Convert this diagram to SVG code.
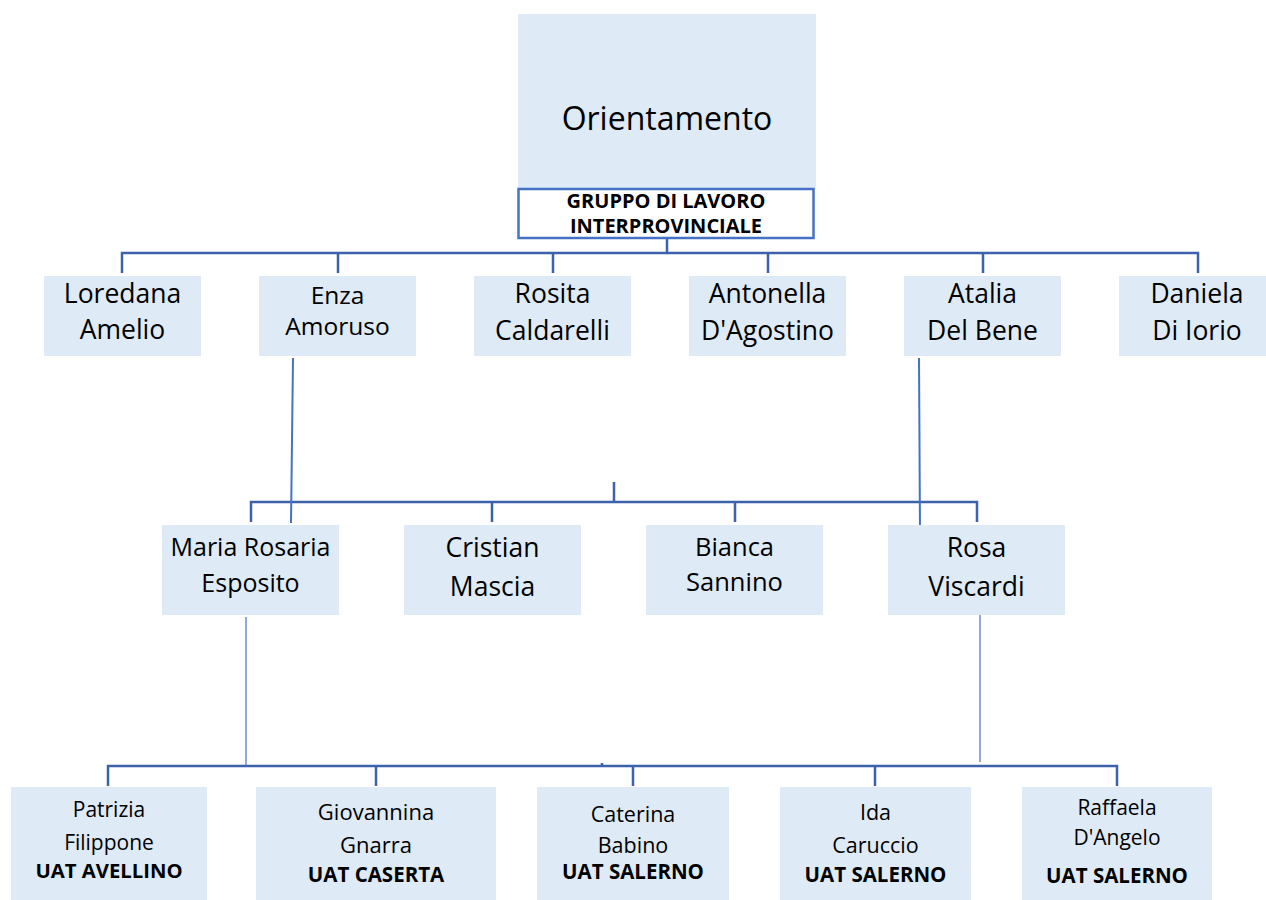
<svg xmlns="http://www.w3.org/2000/svg" width="1266" height="900" viewBox="0 0 1266 900">
<style>
.box{fill:#DEEAF6;}
.t{font-family:"Open Sans","Noto Sans",sans-serif;fill:#000;text-anchor:middle;}
.b{font-family:"Open Sans","Noto Sans",sans-serif;font-weight:bold;fill:#000;text-anchor:middle;}
.bus{stroke:#3C62AC;stroke-width:2.5;fill:none;}
.cross{stroke:#4472C4;stroke-width:2;fill:none;}
.thin{stroke:#4472C4;stroke-width:1.2;fill:none;}
</style>
<rect width="1266" height="900" fill="#fff"/>
<g id="connectors">
<path class="bus" d="M667 239V253M122 273V253H1198V273M338 253V273M553 253V273M768 253V273M983 253V273"/>
<path class="bus" d="M251 522V502H977V522M492 502V522M735 502V522M614 482V502"/>
<path class="bus" d="M108 786V766H1117V786M376 766V786M633 766V786M875 766V786M602 763V766"/>
<path class="cross" d="M293 358L291 523M919 358L920 533"/>
<path class="thin" d="M246 617V766M980 615V762"/>
</g>
<g id="orientamento">
<rect class="box" x="518" y="14" width="298" height="175"/>
<text class="t" x="667" y="130" font-size="32">Orientamento</text>
</g>
<g id="gruppo">
<rect x="518.5" y="189" width="295" height="49" fill="#fff" stroke="#4472C4" stroke-width="2.5"/>
<text class="b" x="666" y="208" font-size="20">GRUPPO DI LAVORO</text>
<text class="b" x="666" y="233" font-size="20">INTERPROVINCIALE</text>
</g>
<g id="loredana">
<rect class="box" x="44" y="276" width="157" height="80"/>
<text class="t" x="122.5" y="303" font-size="26.5">Loredana</text>
<text class="t" x="122.5" y="339" font-size="26.5">Amelio</text>
</g>
<g id="enza">
<rect class="box" x="259" y="276" width="157" height="80"/>
<text class="t" x="337.5" y="304" font-size="24.5">Enza</text>
<text class="t" x="337.5" y="335" font-size="24.5">Amoruso</text>
</g>
<g id="rosita">
<rect class="box" x="474" y="276" width="157" height="80"/>
<text class="t" x="552.5" y="303" font-size="26.5">Rosita</text>
<text class="t" x="552.5" y="340" font-size="26.5">Caldarelli</text>
</g>
<g id="antonella">
<rect class="box" x="689" y="276" width="157" height="80"/>
<text class="t" x="767.5" y="303" font-size="26.5">Antonella</text>
<text class="t" x="767.5" y="340" font-size="26.5">D'Agostino</text>
</g>
<g id="atalia">
<rect class="box" x="904" y="276" width="157" height="80"/>
<text class="t" x="982.5" y="303" font-size="26.5">Atalia</text>
<text class="t" x="982.5" y="340" font-size="26.5">Del Bene</text>
</g>
<g id="daniela">
<rect class="box" x="1119" y="276" width="147" height="80"/>
<text class="t" x="1197" y="303" font-size="26.5">Daniela</text>
<text class="t" x="1197" y="340" font-size="26.5">Di Iorio</text>
</g>
<g id="maria">
<rect class="box" x="162" y="525" width="177" height="90"/>
<text class="t" x="250.5" y="556" font-size="25">Maria Rosaria</text>
<text class="t" x="250.5" y="592" font-size="25">Esposito</text>
</g>
<g id="cristian">
<rect class="box" x="404" y="525" width="177" height="90"/>
<text class="t" x="492.5" y="557" font-size="26.5">Cristian</text>
<text class="t" x="492.5" y="596" font-size="26.5">Mascia</text>
</g>
<g id="bianca">
<rect class="box" x="646" y="525" width="177" height="90"/>
<text class="t" x="734.5" y="556" font-size="25.5">Bianca</text>
<text class="t" x="734.5" y="591" font-size="25.5">Sannino</text>
</g>
<g id="rosa">
<rect class="box" x="888" y="525" width="177" height="90"/>
<text class="t" x="976.5" y="557" font-size="26.5">Rosa</text>
<text class="t" x="976.5" y="596" font-size="26.5">Viscardi</text>
</g>
<g id="patrizia">
<rect class="box" x="11" y="787" width="196" height="113"/>
<text class="t" x="109" y="817" font-size="21">Patrizia</text>
<text class="t" x="109" y="850" font-size="21">Filippone</text>
<text class="b" x="109" y="878" font-size="20.3">UAT AVELLINO</text>
</g>
<g id="giovannina">
<rect class="box" x="256" y="787" width="240" height="113"/>
<text class="t" x="376" y="820" font-size="22">Giovannina</text>
<text class="t" x="376" y="853" font-size="22">Gnarra</text>
<text class="b" x="376" y="882" font-size="20.5">UAT CASERTA</text>
</g>
<g id="caterina">
<rect class="box" x="537" y="787" width="192" height="113"/>
<text class="t" x="633" y="822" font-size="21.5">Caterina</text>
<text class="t" x="633" y="853" font-size="21.5">Babino</text>
<text class="b" x="633" y="879" font-size="20.5">UAT SALERNO</text>
</g>
<g id="ida">
<rect class="box" x="780" y="787" width="191" height="113"/>
<text class="t" x="875.5" y="820" font-size="21.5">Ida</text>
<text class="t" x="875.5" y="853" font-size="21.5">Caruccio</text>
<text class="b" x="875.5" y="882" font-size="20.5">UAT SALERNO</text>
</g>
<g id="raffaela">
<rect class="box" x="1022" y="787" width="190" height="113"/>
<text class="t" x="1117" y="815" font-size="21">Raffaela</text>
<text class="t" x="1117" y="845" font-size="21">D'Angelo</text>
<text class="b" x="1117" y="883" font-size="20.5">UAT SALERNO</text>
</g>
</svg>
